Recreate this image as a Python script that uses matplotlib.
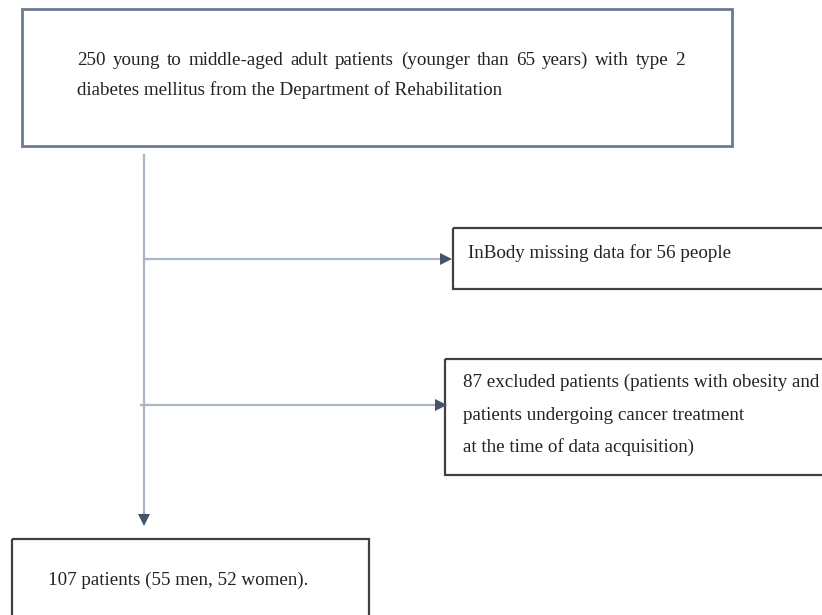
import matplotlib.pyplot as plt
from matplotlib.patches import Rectangle

# box texts
start_text = ["250 young to middle-aged adult patients (younger than 65 years) with type 2",
              "diabetes mellitus from the Department of Rehabilitation"]
missing_text = ["InBody missing data for 56 people"]
excluded_text = ["87 excluded patients (patients with obesity and",
                 "patients undergoing cancer treatment",
                 "at the time of data acquisition)"]
final_text = ["107 patients (55 men, 52 women)."]

line_col = "#aab5c5"
head_col = "#44546a"
box_col = "#404040"
FS = 13.7
FONT = dict(fontsize=FS, family="Liberation Serif", color="#222222", va="baseline", ha="left")
BL = 5  # baseline offset below the line centre

fig = plt.figure(figsize=(8.22, 6.15), dpi=100)
ax = fig.add_axes([0, 0, 1, 1])
ax.set_xlim(0, 822)
ax.set_ylim(615, 0)
ax.axis("off")
renderer = fig.canvas.get_renderer()


def box(x0, y0, x1, y1, ec, lw=1.6):
    ax.add_patch(Rectangle((x0, y0), x1 - x0, y1 - y0, fill=False, ec=ec, lw=lw, clip_on=False))


def lines(x, y, txt, dy):
    for i, t in enumerate(txt):
        ax.text(x, y + i * dy + BL, t, **FONT)


def justified(x, x_end, y, t):
    # spread the words of one line over x..x_end (word-style justification)
    words = t.split(" ")
    arts = [ax.text(0, y + BL, w, **FONT) for w in words]
    widths = [a.get_window_extent(renderer).width for a in arts]
    gap = (x_end - x - sum(widths)) / (len(words) - 1)
    cx = x
    for a, w in zip(arts, widths):
        a.set_x(cx)
        cx += w + gap


box(22, 9, 732, 146, "#6b7a8f", 2.0)
justified(77, 685, 60, start_text[0])
lines(77, 90, start_text[1:], 30)

box(453, 228, 830, 289, box_col)
lines(468, 253, missing_text, 30)

box(445, 359, 830, 475, box_col)
lines(463, 382, excluded_text, 32.5)

box(12, 539, 369, 640, box_col)
lines(48, 580, final_text, 30)

# connector lines
ax.plot([144, 144], [155, 515], color=line_col, lw=1.6)
ax.plot([144, 442], [259, 259], color=line_col, lw=1.6)
ax.plot([141, 437], [405, 405], color=line_col, lw=1.6)
# arrow heads
ax.plot(144, 520, marker="v", ms=8, color=head_col, mew=0)
ax.plot(446, 259, marker=">", ms=8, color=head_col, mew=0)
ax.plot(441, 405, marker=">", ms=8, color=head_col, mew=0)

fig.savefig("out.png", dpi=100)
